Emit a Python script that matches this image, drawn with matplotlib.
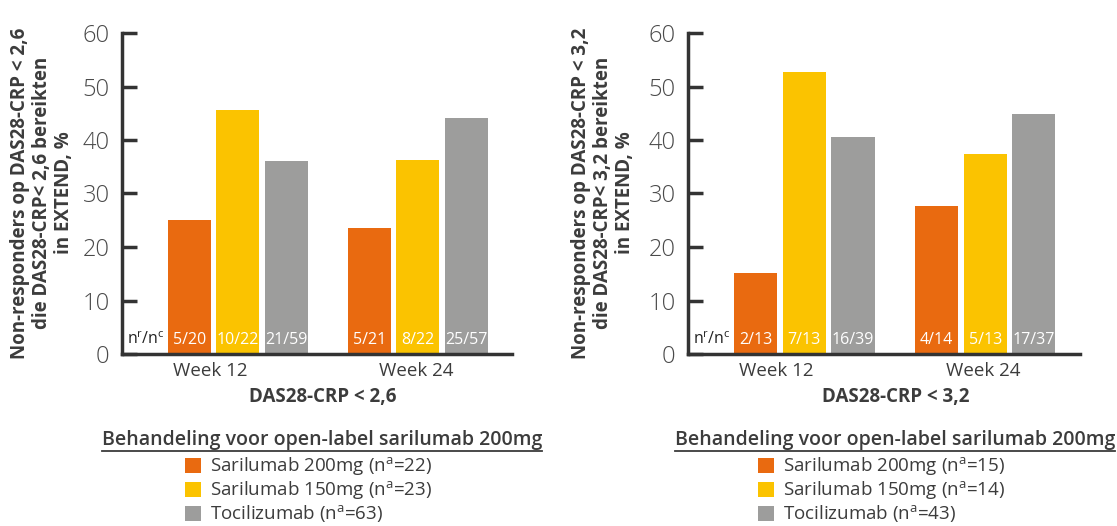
import matplotlib
matplotlib.use("Agg")
import matplotlib.pyplot as plt
import numpy as np
from matplotlib.lines import Line2D

plt.rcParams['font.family'] = ['Open Sans', 'DejaVu Sans']
plt.rcParams['mathtext.fontset'] = 'custom'
plt.rcParams['mathtext.rm'] = 'Open Sans'

# data
weeks = ["Week 12", "Week 24"]
treatments = ["Sarilumab 200mg", "Sarilumab 150mg", "Tocilizumab"]
colors = ["#E96A10", "#FBC300", "#9D9D9C"]

left_vals = [[25.0, 23.5], [45.6, 36.2], [36.0, 44.1]]
left_counts = [["5/20", "5/21"], ["10/22", "8/22"], ["21/59", "25/57"]]
left_n = [22, 23, 63]

right_vals = [[15.2, 27.7], [52.7, 37.4], [40.6, 44.8]]
right_counts = [["2/13", "4/14"], ["7/13", "5/13"], ["16/39", "17/37"]]
right_n = [15, 14, 43]

TXT = "#3c3c3c"
W, H = 1117, 526
fig = plt.figure(figsize=(W / 100, H / 100), dpi=100)


def px(x0, y0, x1, y1):
    return [x0 / W, 1 - y1 / H, (x1 - x0) / W, (y1 - y0) / H]


def panel(rect, vals, counts, ns, thr, ylab_x, xlab_x, leg_x, title_x):
    ax = fig.add_axes(px(*rect))
    group = np.array([0.0, 4.2])
    offs = [-1.13, 0.0, 1.13]
    bars = []
    for i in range(3):
        b = ax.bar(group + offs[i], vals[i], width=1.0, color=colors[i],
                   label=f"{treatments[i]} (n$^{{\\rm a}}$={ns[i]})")
        bars.append(b)
        for j in range(2):
            ax.text(group[j] + offs[i], 2.7, counts[i][j], ha="center", va="center",
                    color="white", fontsize=11.5)
    ax.text(group[0] - 1.13 - 0.57, 2.7, r"n$^{\rm r}$/n$^{\rm c}$", ha="right",
            va="center", color="#222222", fontsize=11.5)
    ax.set_xlim(-2.7, 6.4)
    ax.set_ylim(0, 60)
    ax.set_yticks(range(0, 61, 10))
    ax.set_xticks([-0.65, 4.16])
    ax.set_xticklabels(weeks)
    ax.tick_params(axis="x", length=0, labelsize=13.5, colors=TXT, pad=6)
    ax.tick_params(axis="y", direction="in", length=11, width=2.5,
                   labelsize=17, colors="#333333", labelcolor="#4a4a4a", pad=9)
    for lab in ax.get_yticklabels():
        lab.set_fontweight("light")
    for s in ["top", "right"]:
        ax.spines[s].set_visible(False)
    for s in ["left", "bottom"]:
        ax.spines[s].set_linewidth(2.5)
        ax.spines[s].set_color("#333333")

    fig.text(ylab_x / W, 1 - 193 / H,
             f"Non-responders op DAS28-CRP < {thr}\ndie DAS28-CRP< {thr} bereikten\nin EXTEND, %",
             rotation=90, ha="center", va="center", ma="center",
             fontsize=13.5, fontweight="bold", color=TXT, linespacing=1.15)
    fig.text(xlab_x / W, 1 - 397 / H, f"DAS28-CRP < {thr}", ha="center", va="center",
             fontsize=13.5, fontweight="bold", color=TXT)
    t = fig.text(title_x / W, 1 - 440 / H, "Behandeling voor open-label sarilumab 200mg",
                 ha="center", va="center", fontsize=14, fontweight="semibold", color=TXT)
    fig.legend(handles=bars, loc="upper left", bbox_to_anchor=(leg_x / W, 1 - 455 / H),
               frameon=False, fontsize=13.5, handlelength=0.85, handleheight=0.85,
               handletextpad=0.5, labelspacing=0.08, borderaxespad=0, borderpad=0,
               labelcolor=TXT)
    return t


titles = []
titles.append(panel((122, 33, 512, 354), left_vals, left_counts, left_n, "2,6",
                    42, 323, 185, 322))
titles.append(panel((688, 33, 1080, 354), right_vals, right_counts, right_n, "3,2",
                    603, 896, 758, 895))

# underline legend titles
fig.canvas.draw()
r = fig.canvas.get_renderer()
for t in titles:
    bb = t.get_window_extent(r).transformed(fig.transFigure.inverted())
    fig.add_artist(Line2D([bb.x0, bb.x1], [bb.y0 - 0.002, bb.y0 - 0.002],
                          transform=fig.transFigure, color=TXT, lw=1.3))

fig.savefig("out.png", dpi=100)
